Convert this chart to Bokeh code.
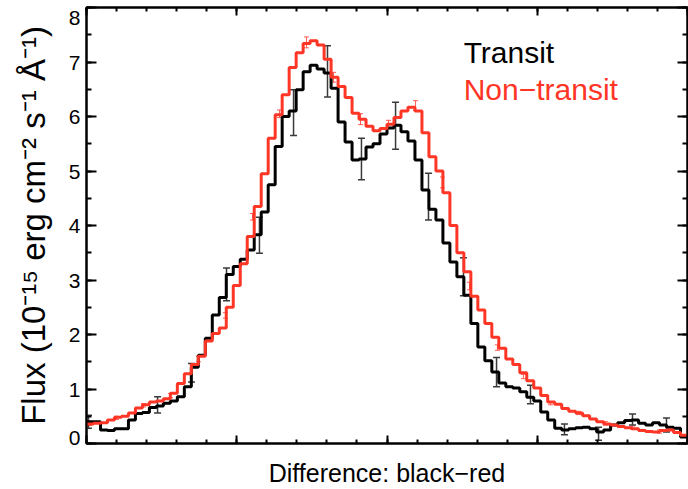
import numpy as np
from bokeh.plotting import figure
from bokeh.models import (LinearAxis, FixedTicker, ColumnDataSource, Whisker,
                          TeeHead, Label, Range1d, CustomJSTickFormatter)
from bokeh.embed import file_html
from bokeh.resources import INLINE

# ---------------- data ----------------
x_min, x_max = 0.0, 4.0
n_bins = 86

transit = [0.40, 0.40, 0.25, 0.24, 0.27, 0.27, 0.43, 0.55, 0.57, 0.66,
           0.69, 0.74, 0.78, 0.86, 1.04, 1.40, 1.62, 1.93, 2.36, 2.68,
           3.10, 3.25, 3.38, 3.55, 3.83, 4.25, 4.75, 5.45, 6.00, 6.10,
           6.49, 6.82, 6.94, 6.87, 6.80, 6.52, 5.90, 5.53, 5.20, 5.22,
           5.44, 5.50, 5.68, 5.79, 5.84, 5.72, 5.55, 5.20, 4.65, 4.30,
           4.10, 3.68, 3.33, 3.06, 2.72, 2.20, 1.77, 1.52, 1.31, 1.11,
           1.04, 1.02, 0.95, 0.85, 0.78, 0.58, 0.43, 0.28, 0.25, 0.27,
           0.29, 0.30, 0.27, 0.21, 0.25, 0.34, 0.38, 0.42, 0.43, 0.37,
           0.34, 0.38, 0.34, 0.30, 0.28, 0.12]

non_transit = [0.36, 0.37, 0.38, 0.43, 0.48, 0.50, 0.56, 0.65, 0.71, 0.76,
               0.78, 0.82, 0.92, 1.10, 1.28, 1.45, 1.60, 1.88, 2.02, 2.12,
               2.50, 2.90, 3.30, 3.80, 4.35, 4.95, 5.60, 6.03, 6.40, 6.90,
               7.17, 7.34, 7.39, 7.31, 7.05, 6.72, 6.55, 6.35, 6.06, 5.95,
               5.82, 5.74, 5.78, 5.86, 5.98, 6.10, 6.17, 6.10, 5.70, 5.26,
               5.00, 4.60, 4.00, 3.50, 3.15, 2.70, 2.45, 2.20, 1.95, 1.75,
               1.55, 1.45, 1.30, 1.15, 1.02, 0.88, 0.76, 0.72, 0.64, 0.59,
               0.56, 0.51, 0.45, 0.40, 0.36, 0.34, 0.31, 0.29, 0.27, 0.24,
               0.22, 0.21, 0.24, 0.25, 0.20, 0.15]

transit_err_x = [0.013, 0.473, 0.699, 0.932, 1.151, 1.378, 1.604, 1.830, 2.057,
                 2.276, 2.509, 2.729, 2.955, 3.181, 3.408, 3.634, 3.860]
transit_err_y = [0.40, 0.71, 1.30, 2.92, 3.82, 6.07, 6.83, 5.22, 5.83,
                 4.53, 3.06, 1.31, 0.90, 0.26, 0.18, 0.44, 0.34]
transit_err = [0.12, 0.15, 0.17, 0.30, 0.33, 0.42, 0.47, 0.38, 0.43,
               0.43, 0.35, 0.27, 0.17, 0.10, 0.12, 0.10, 0.13]

non_transit_err_x = [0.020, 0.200, 0.379, 0.559, 0.745, 0.925, 1.105, 1.285,
                     1.464, 1.644, 1.824, 2.010, 2.190, 2.369, 2.549, 2.735,
                     2.908, 3.088, 3.275, 3.454, 3.634, 3.814]
non_transit_err_y = [0.37, 0.47, 0.70, 0.88, 1.55, 2.35, 4.16, 6.05, 7.36,
                     6.72, 5.95, 5.86, 6.20, 4.79, 2.89, 1.76, 1.23, 0.74,
                     0.56, 0.37, 0.29, 0.22]
non_transit_err = [0.04, 0.03, 0.03, 0.04, 0.05, 0.05, 0.06, 0.07, 0.10,
                   0.09, 0.10, 0.07, 0.09, 0.10, 0.07, 0.05, 0.04, 0.03,
                   0.03, 0.03, 0.03, 0.03]

y_ticks = [0, 1, 2, 3, 4, 5, 6, 7, 8]
x_ticks = [0, 1, 2, 3, 4]

series_labels = ["Transit", "Non\u2212transit"]
x_label = "Difference: black\u2212red"
y_label = "Flux (10\u207b\u00b9\u2075 erg cm\u207b\u00b2 s\u207b\u00b9 \u00c5\u207b\u00b9)"

# ---------------- styling ----------------
FONT = "Liberation Sans"
BLACK = "#000000"
RED = "#ff3526"

edges = np.linspace(x_min, x_max, n_bins + 1)

p = figure(width=688, height=489, x_range=Range1d(x_min, x_max),
           y_range=Range1d(y_ticks[0], y_ticks[-1]), output_backend="svg",
           toolbar_location=None,
           min_border_left=86, min_border_right=1, min_border_top=7,
           min_border_bottom=46)
p.grid.visible = False
p.outline_line_color = "black"
p.outline_line_width = 2
p.background_fill_color = "white"
p.border_fill_color = "white"

# step curves (bin edges, last value repeated to close the last bin)
p.step(edges, list(transit) + [transit[-1]], mode="after",
       line_color=BLACK, line_width=3)
p.step(edges, list(non_transit) + [non_transit[-1]], mode="after",
       line_color=RED, line_width=3)

# error bars
src_t = ColumnDataSource(dict(
    x=transit_err_x,
    lo=[c - e for c, e in zip(transit_err_y, transit_err)],
    hi=[c + e for c, e in zip(transit_err_y, transit_err)]))
src_n = ColumnDataSource(dict(
    x=non_transit_err_x,
    lo=[c - e for c, e in zip(non_transit_err_y, non_transit_err)],
    hi=[c + e for c, e in zip(non_transit_err_y, non_transit_err)]))

p.add_layout(Whisker(base="x", lower="lo", upper="hi", source=src_n,
                     line_color="#ff5a4f", line_width=1,
                     upper_head=TeeHead(size=5, line_color="#ff5a4f", line_width=1),
                     lower_head=TeeHead(size=5, line_color="#ff5a4f", line_width=1)))
p.add_layout(Whisker(base="x", lower="lo", upper="hi", source=src_t,
                     line_color="#3a3a3a", line_width=1.5,
                     upper_head=TeeHead(size=7, line_color="#3a3a3a", line_width=1.5),
                     lower_head=TeeHead(size=7, line_color="#3a3a3a", line_width=1.5)))

# tickers
x_minor = [round(v, 2) for v in np.arange(0, 4.0001, 0.2)]
y_minor = [round(v, 2) for v in np.arange(0, 8.0001, 0.5)]
xt = FixedTicker(ticks=x_ticks, minor_ticks=x_minor)
yt = FixedTicker(ticks=y_ticks, minor_ticks=y_minor)
blank = CustomJSTickFormatter(code="return ''")

def style_axis(ax, major_len, minor_len):
    ax.major_tick_in = major_len
    ax.major_tick_out = 0
    ax.minor_tick_in = minor_len
    ax.minor_tick_out = 0
    ax.major_tick_line_width = 2
    ax.minor_tick_line_width = 2
    ax.axis_line_width = 2
    ax.axis_line_color = "black"
    ax.major_tick_line_color = "black"
    ax.minor_tick_line_color = "black"

# bottom
xa = p.xaxis[0]
xa.ticker = xt
xa.formatter = blank
xa.major_label_text_font_size = "1px"
xa.major_label_standoff = 0
style_axis(xa, 8, 4)
xa.axis_label = x_label
xa.axis_label_text_font = FONT
xa.axis_label_text_font_size = "25px"
xa.axis_label_text_font_style = "normal"
xa.axis_label_text_color = "black"
xa.axis_label_standoff = 15

# left
ya = p.yaxis[0]
ya.ticker = yt
style_axis(ya, 10, 5)
ya.major_label_text_font = FONT
ya.major_label_text_font_size = "21px"
ya.major_label_text_color = "black"
ya.major_label_text_line_height = 0.25
ya.major_label_standoff = 6
# end labels are kept inside the frame height, as in the original
ya.major_label_overrides = {y_ticks[0]: str(y_ticks[0]) + "\n \n ",
                            y_ticks[-1]: " \n" + str(y_ticks[-1])}
ya.axis_label = y_label
ya.axis_label_text_font = FONT
ya.axis_label_text_font_size = "33px"
ya.axis_label_text_font_style = "normal"
ya.axis_label_text_color = "black"
ya.axis_label_standoff = 14

# top and right (ticks only)
top = LinearAxis(ticker=xt, formatter=blank, major_label_text_font_size="1px",
                 major_label_standoff=0)
style_axis(top, 8, 4)
right = LinearAxis(ticker=yt, formatter=blank, major_label_text_font_size="1px",
                   major_label_standoff=0)
style_axis(right, 10, 5)
p.add_layout(top, "above")
p.add_layout(right, "right")

# legend texts
p.add_layout(Label(x=2.51, y=7.18, text=series_labels[0], text_color=BLACK,
                   text_font=FONT, text_font_size="30px",
                   text_baseline="alphabetic"))
p.add_layout(Label(x=2.51, y=6.49, text=series_labels[1], text_color=RED,
                   text_font=FONT, text_font_size="30px",
                   text_baseline="alphabetic"))

open("out.html", "w").write(file_html(p, INLINE))
